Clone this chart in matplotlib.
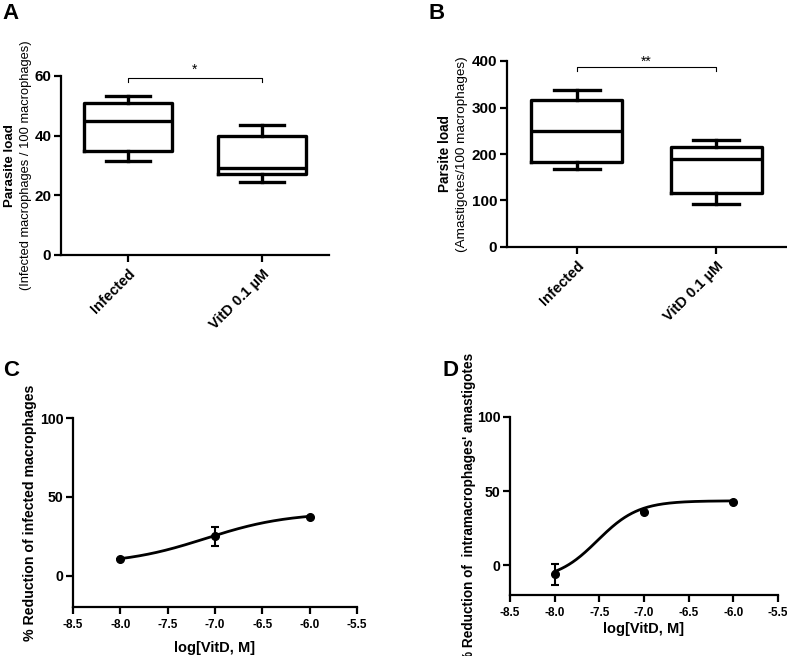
import numpy as np
import matplotlib
matplotlib.use('Agg')
import matplotlib.pyplot as plt

plt.rcParams['font.family'] = ['Liberation Sans', 'DejaVu Sans']
plt.rcParams['axes.unicode_minus'] = False

groups = ['Infected', 'VitD 0.1 µM']

# box stats: whisker low, q1, median, q3, whisker high
a_stats = [(31.5, 35, 45, 51, 53.2), (24.5, 27, 29, 40, 43.5)]
b_stats = [(167, 183, 250, 317, 338), (92, 117, 190, 214, 231)]

logdose = [-8.0, -7.0, -6.0]
c_mean = [10.5, 25.0, 37.0]
c_err = [0.0, 6.0, 0.0]
d_mean = [-6.0, 36.0, 43.0]
d_err = [7.0, 0.0, 0.0]

# fitted sigmoid parameters: bottom, top, logEC50, hill
c_fit = (7.0, 40.0, -7.1, 1.0)
d_fit = (-10.0, 43.5, -7.52, 1.9)

W, H = 787, 656
fig = plt.figure(figsize=(W / 100, H / 100), dpi=100)


def axes_px(l, t, r, b):
    return fig.add_axes([l / W, 1 - b / H, (r - l) / W, (b - t) / H])


def style(ax, ysize=10.5, xsize=None):
    for s in ['top', 'right']:
        ax.spines[s].set_visible(False)
    for s in ['left', 'bottom']:
        ax.spines[s].set_linewidth(1.6)
    ax.tick_params(width=1.6, length=5)
    ax.tick_params(axis='y', labelsize=ysize, pad=2)
    if xsize:
        ax.tick_params(axis='x', labelsize=xsize)
    for lab in ax.get_xticklabels() + ax.get_yticklabels():
        lab.set_fontweight('bold')


def boxes(ax, stats):
    bxp = []
    for s in stats:
        bxp.append(dict(whislo=s[0], q1=s[1], med=s[2], q3=s[3], whishi=s[4], fliers=[]))
    lw = 2.4
    ax.bxp(bxp, positions=[0, 1], widths=0.65, showfliers=False,
           boxprops=dict(lw=lw, color='black'), medianprops=dict(lw=lw, color='black'),
           whiskerprops=dict(lw=lw, color='black'), capprops=dict(lw=lw, color='black'),
           capwidths=0.33)
    ax.set_xlim(-0.5, 1.5)
    ax.set_xticks([0, 1])
    ax.set_xticklabels(groups, rotation=45, ha='right', rotation_mode='anchor',
                       fontsize=10.5, fontweight='bold')


def bracket(ax, y, drop, star, ys):
    ax.plot([0, 0, 1, 1], [y - drop, y, y, y - drop], color='black', lw=0.8, clip_on=False)
    ax.text(0.5, ys, star, ha='center', va='center', fontsize=10)


def sigmoid(x, p):
    bottom, top, ec50, hill = p
    return bottom + (top - bottom) / (1 + 10 ** ((ec50 - x) * hill))


# A
axA = axes_px(61, 76, 329, 255)
boxes(axA, a_stats)
axA.set_ylim(0, 60)
axA.set_yticks([0, 20, 40, 60])
style(axA, ysize=11)
bracket(axA, 59.3, 1.3, '*', 62)
axA.text(-0.19, 0.5, 'Parasite load', transform=axA.transAxes, rotation=90,
         ha='center', va='center', fontsize=9.6, fontweight='bold')
axA.text(-0.13, 0.5, '(Infected macrophages / 100 macrophages)', transform=axA.transAxes,
         rotation=90, ha='center', va='center', fontsize=9.3)

# B
axB = axes_px(507, 61, 786, 247)
boxes(axB, b_stats)
axB.set_ylim(0, 400)
axB.set_yticks([0, 100, 200, 300, 400])
style(axB, ysize=11)
bracket(axB, 387, 8, '**', 399)
axB.text(-0.222, 0.5, 'Parsite load', transform=axB.transAxes, rotation=90,
         ha='center', va='center', fontsize=9.8, fontweight='bold')
axB.text(-0.161, 0.5, '(Amastigotes/100 macrophages)', transform=axB.transAxes,
         rotation=90, ha='center', va='center', fontsize=9.7)

# C
xs = np.linspace(-8.0, -6.0, 200)
axC = axes_px(73, 418, 357, 607)
axC.plot(xs, sigmoid(xs, c_fit), color='black', lw=2)
axC.errorbar(logdose, c_mean, yerr=c_err, fmt='o', color='black', ms=5.5,
             elinewidth=1.5, capsize=3, capthick=1.5)
axC.set_xlim(-8.5, -5.5)
axC.set_ylim(-20, 100)
axC.set_xticks([-8.5, -8.0, -7.5, -7.0, -6.5, -6.0, -5.5])
axC.set_yticks([0, 50, 100])
style(axC, ysize=10.2, xsize=8.5)
axC.set_xlabel('log[VitD, M]', fontsize=10.5, fontweight='bold')
axC.set_ylabel('% Reduction of infected macrophages', fontsize=10.2, fontweight='bold')
axC.xaxis.set_label_coords(0.5, -0.18)
axC.yaxis.set_label_coords(-0.127, 0.5)

# D
axD = axes_px(510, 417, 778, 595)
axD.plot(xs, sigmoid(xs, d_fit), color='black', lw=2)
axD.errorbar(logdose, d_mean, yerr=d_err, fmt='o', color='black', ms=5.5,
             elinewidth=1.5, capsize=3, capthick=1.5)
axD.set_xlim(-8.5, -5.5)
axD.set_ylim(-20, 100)
axD.set_xticks([-8.5, -8.0, -7.5, -7.0, -6.5, -6.0, -5.5])
axD.set_yticks([0, 50, 100])
style(axD, ysize=10.2, xsize=8.5)
axD.set_xlabel('log[VitD, M]', fontsize=10.5, fontweight='bold')
axD.set_ylabel("% Reduction of  intramacrophages' amastigotes", fontsize=9.8,
               fontweight='bold')
axD.xaxis.set_label_coords(0.5, -0.152)
axD.yaxis.set_label_coords(-0.127, 0.49)

for lab, x, y in [('A', 2, 3), ('B', 428, 3), ('C', 3, 360), ('D', 442, 360)]:
    fig.text(x / W, 1 - y / H, lab, fontsize=16, fontweight='bold', va='top', ha='left')

fig.savefig('out.png', dpi=100)
